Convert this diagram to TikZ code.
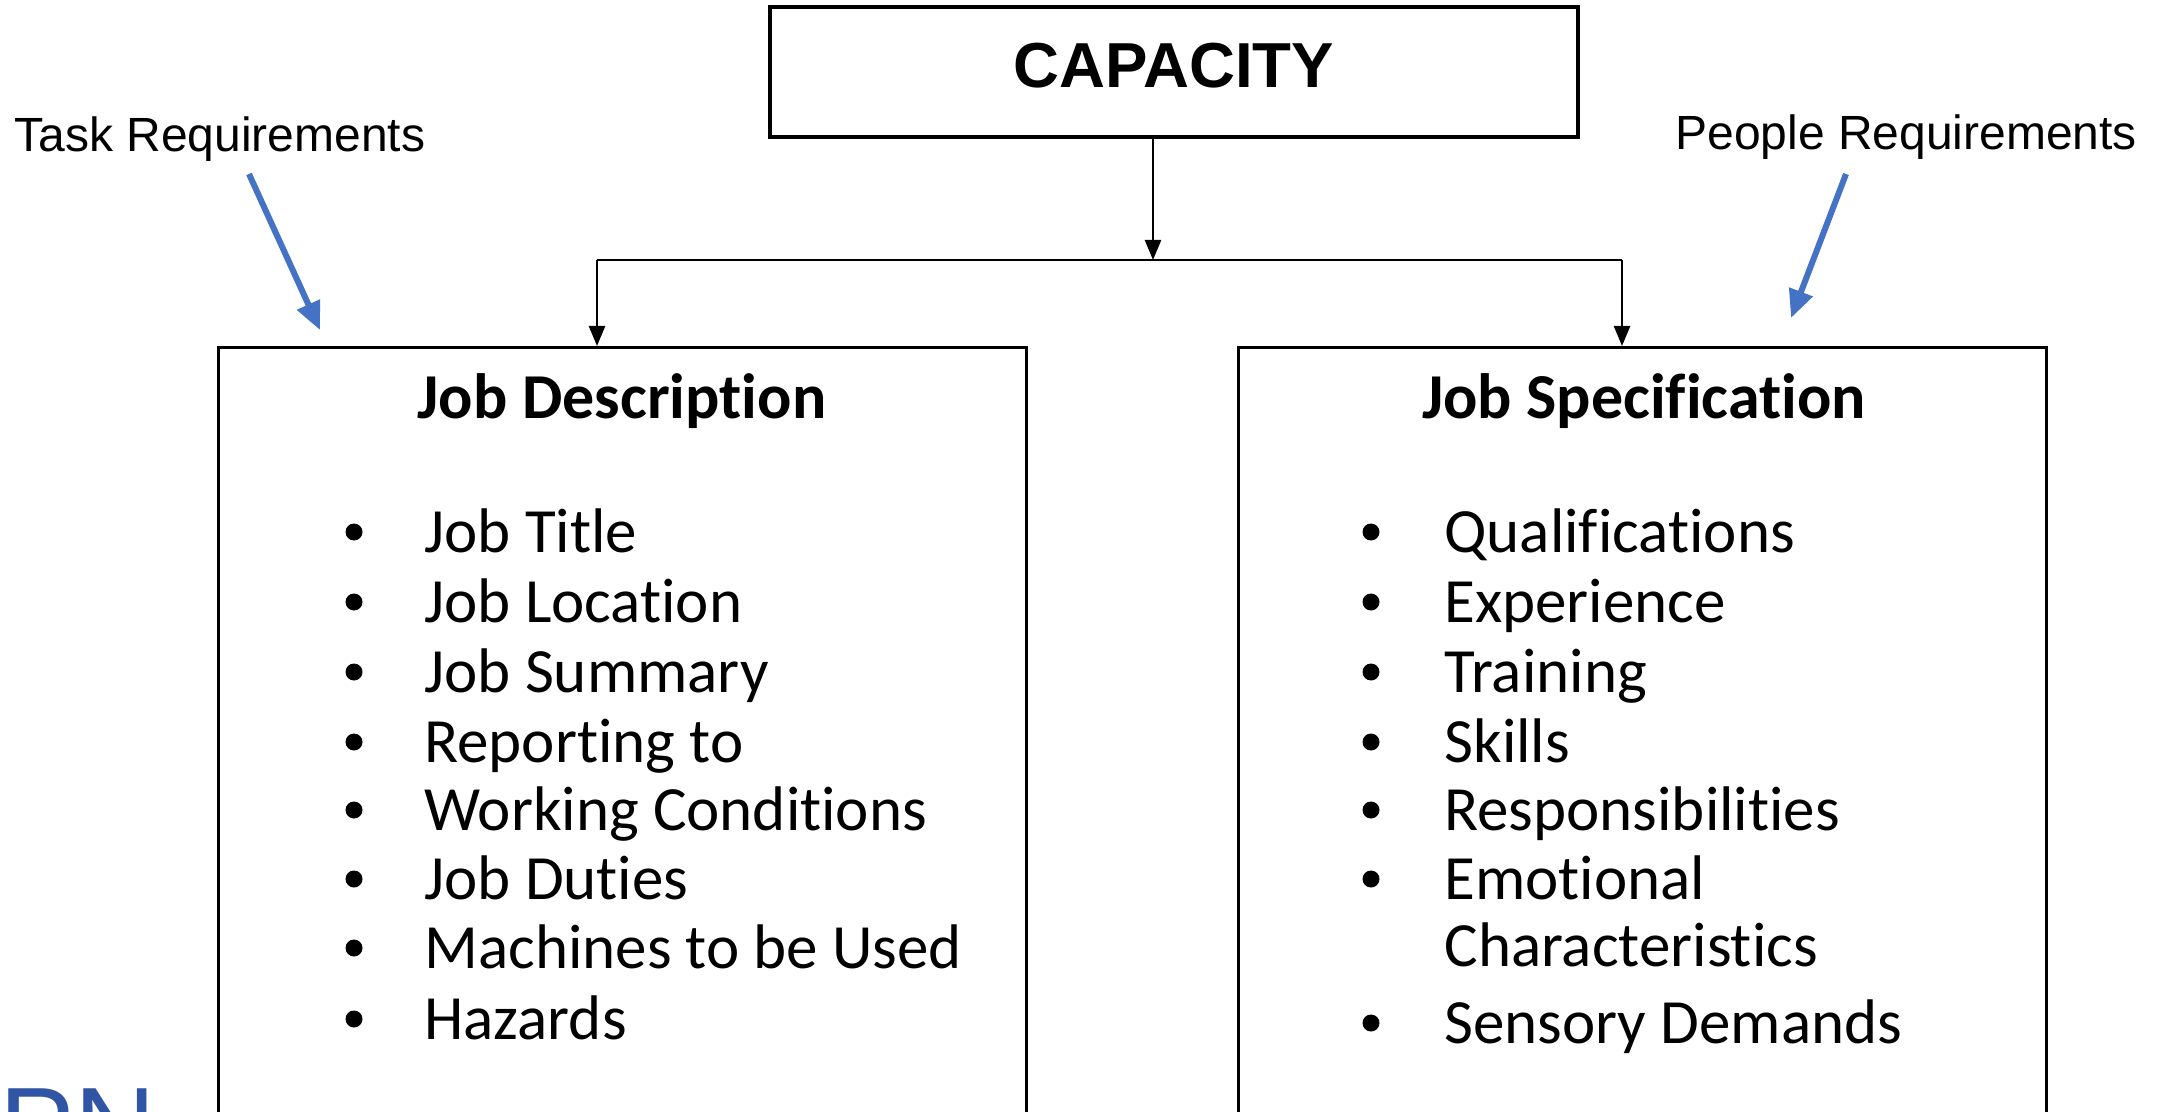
\documentclass[tikz,border=0pt]{standalone}
\usepackage{fontspec}
\setmainfont{Carlito}[Ligatures=NoCommon]
\newfontfamily\arialf{Liberation Sans}
\usetikzlibrary{arrows.meta}
\definecolor{arrowblue}{HTML}{4472C4}
\definecolor{pnblue}{HTML}{2F55A4}
\begin{document}
\begin{tikzpicture}[x=0.5pt,y=-0.5pt,
  frame/.style={draw=black, line width=1.6pt, rectangle, inner sep=0pt},
  conn/.style={draw=black, line width=1.2pt},
  tip/.style={-{Triangle[width=8pt,length=10pt]}},
  bluearrow/.style={draw=arrowblue, line width=3pt, -{Triangle[width=12pt,length=14pt]}},
  item/.style={anchor=base west, inner sep=0pt, font=\fontsize{31.5pt}{36pt}\selectfont},
  dot/.style={circle, fill=black, inner sep=0pt, minimum size=8.5pt},
  title/.style={anchor=base, inner sep=0pt, font=\fontsize{32pt}{38pt}\selectfont\bfseries},
  lbl/.style={anchor=base west, inner sep=0pt, font=\arialf\fontsize{24pt}{28pt}\selectfont}
]
\useasboundingbox (0,0) rectangle (2167,1112);
\clip (0,0) rectangle (2167,1112);
\fill[white] (0,0) rectangle (2167,1112);

\node[frame, minimum width=404pt, minimum height=65pt, text depth=7pt,
      font=\arialf\bfseries\fontsize{31.8pt}{36pt}\selectfont] (cap) at (1174,72) {CAPACITY};

\node[frame, anchor=north west, minimum width=404pt, minimum height=400pt] (desc) at (217,346) {};
\node[frame, anchor=north west, minimum width=404pt, minimum height=400pt] (spec) at (1237,346) {};

\node[title] (descT) at (622,418) {Job Description};
\node[title] (specT) at (1644,418) {Job Specification};

\foreach \y/\t [count=\i] in {552/Job Title, 622/Job Location, 692/Job Summary, 762/Reporting to,
    830/Working Conditions, 899/Job Duties, 968/Machines to be Used, 1039/Hazards} {
  \node[item] (L\i) at (424,\y) {\t};
  \node[dot] (Ld\i) at (354,\y-20) {};
}
\foreach \y/\t [count=\i] in {552/Qualifications, 622/Experience, 692/Training, 762/Skills,
    830/Responsibilities, 899/Emotional, 1043/Sensory Demands} {
  \node[item] (R\i) at (1444,\y) {\t};
  \node[dot] (Rd\i) at (1371,\y-20) {};
}
\node[item] (R6b) at (1444,966) {Characteristics};

\node[lbl] (task) at (14,152) {Task Requirements};
\node[lbl] (people) at (1675,150) {People Requirements};

\coordinate (ts) at (249,174);
\coordinate (te) at (320,330);
\coordinate (ps) at (1846,174);
\coordinate (pe) at (1791,318);
\draw[bluearrow] (ts) -- (te);
\draw[bluearrow] (ps) -- (pe);

\coordinate (j) at (1153,260);
\coordinate (jl) at (597,260);
\coordinate (jr) at (1622,260);
\draw[conn,tip] (cap.south -| j) -- (j);
\draw[conn] (jl) -- (jr);
\draw[conn,tip] (jl) -- (jl |- desc.north);
\draw[conn,tip] (jr) -- (jr |- spec.north);

\node[anchor=base west, inner sep=0pt, text=pnblue,
      font=\arialf\fontsize{56.5pt}{60pt}\selectfont] (pn) at (-1,1166) {PN};
\end{tikzpicture}
\end{document}
